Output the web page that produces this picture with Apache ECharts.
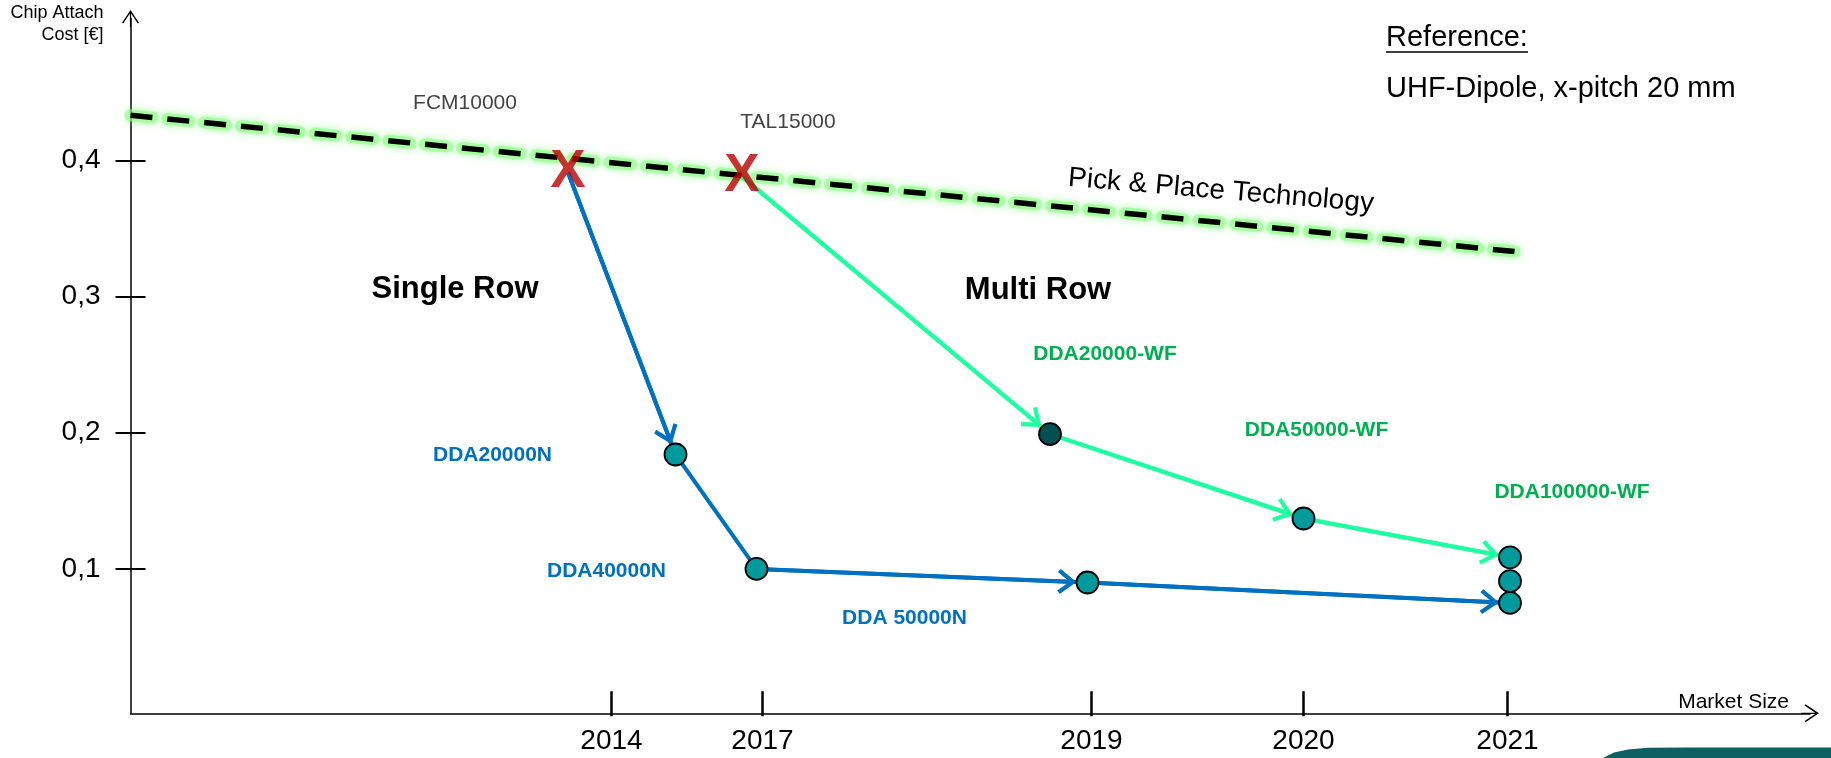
<!DOCTYPE html>
<html>
<head>
<meta charset="utf-8">
<title>Chip Attach Cost</title>
<script src="https://cdn.jsdelivr.net/npm/echarts@6.0.0/dist/echarts.min.js"></script>
<style>
    html, body { margin: 0; padding: 0; background: #fff; }
    #main { width: 1831px; height: 758px; }
</style>
</head>
<body>
<div id="main"></div>
<script>
// x = relative market size position, y = chip attach cost [EUR]
var yearLabels = ['2014', '2017', '2019', '2020', '2021'];
var yearPos = [48.1, 63.2, 96.1, 117.3, 137.7];
var costTicks = [0.1, 0.2, 0.3, 0.4];

// pick & place reference line
var pickPlaceX = [0, 138.4];
var pickPlaceY = [0.433, 0.333];

// pick & place machines (red X)
var startNames = ['FCM10000', 'TAL15000'];
var startX = [43.75, 61.15];
var startY = [0.391, 0.388];

// single row path (blue), starts at FCM10000
var singleNames = ['DDA20000N', 'DDA40000N', 'DDA 50000N', ''];
var singleX = [54.5, 62.6, 95.7, 137.95];
var singleY = [0.184, 0.100, 0.090, 0.075];
var singleArrow = [true, false, true, true];

// multi row path (green), starts at TAL15000
var multiNames = ['DDA20000-WF', 'DDA50000-WF', 'DDA100000-WF'];
var multiX = [91.95, 117.3, 137.95];
var multiY = [0.199, 0.137, 0.1085];
var multiArrow = [true, true, true];

// extra 2021 variant
var extraX = [137.95];
var extraY = [0.091];

// label offsets (px) - style only
var startOffsets = [[-103, -69], [46, -54]];
var singleOffsets = [[-183, 1], [-150, 2], [-183, 36], [0, 0]];
var multiOffsets = [[55, -80], [13, -88], [62, -65]];

var FONT = "'Liberation Sans', Arial, sans-serif";
var BLUE = '#0070c0';
var GREEN_LINE = '#1effa0';
var GREEN_TEXT = '#00b050';
var TEAL = '#00999c';
var CHEVRON = 'path://M10,0 L20,12.5 L17.4,14.6 L10,5.4 L2.6,14.6 L0,12.5 Z';
var AXIS_ARROW = 'path://M10,0 L20,15 L18.6,16 L10.7,4.2 L10.7,20 L9.3,20 L9.3,4.2 L1.4,16 L0,15 Z';

var chart = echarts.init(document.getElementById('main'));

function makePath(x0, y0, xs, ys) {
    var pts = [[x0, y0]];
    for (var i = 0; i < xs.length; i++) pts.push([xs[i], ys[i]]);
    return pts;
}

function arrowSegments(pts, flags) {
    var out = [];
    for (var i = 0; i < pts.length - 1; i++) {
        if (!flags[i]) continue;
        out.push([
            {coord: pts[i], symbol: 'none'},
            {coord: pts[i + 1], symbol: CHEVRON, symbolSize: [25, 19], symbolOffset: [0, 20.5]}
        ]);
    }
    return out;
}

var singlePath = makePath(startX[0], startY[0], singleX, singleY);
var multiPath = makePath(startX[1], startY[1], multiX, multiY);
var pickPlace = pickPlaceX.map(function (x, i) { return [x, pickPlaceY[i]]; });

function dotItem(x, y, name, color, labelColor, offset) {
    return {
        value: [x, y],
        name: name,
        itemStyle: {color: color},
        label: {show: !!name, formatter: name, color: labelColor, offset: offset}
    };
}

var dots = [];
singleX.forEach(function (x, i) {
    dots.push(dotItem(x, singleY[i], singleNames[i], TEAL, BLUE, singleOffsets[i]));
});
multiX.forEach(function (x, i) {
    dots.push(dotItem(x, multiY[i], multiNames[i], i === 0 ? '#004f52' : TEAL, GREEN_TEXT, multiOffsets[i]));
});
extraX.forEach(function (x, i) {
    dots.push(dotItem(x, extraY[i], '', TEAL, BLUE, [0, 0]));
});

var startItems = startX.map(function (x, i) {
    return {value: [x, startY[i]], name: startNames[i], label: {offset: startOffsets[i]}};
});

function yearFmt(v) {
    for (var i = 0; i < yearPos.length; i++) {
        if (Math.abs(yearPos[i] - v) < 0.01) return yearLabels[i];
    }
    return '';
}

var option = {
    animation: false,
    backgroundColor: '#fff',
    textStyle: {fontFamily: FONT},
    grid: {left: 130.5, right: 21, top: 18.5, bottom: 44.7, containLabel: false, outerBoundsMode: 'none'},
    xAxis: [{
        type: 'value',
        min: 0,
        max: 167.95,
        name: 'Market Size',
        nameLocation: 'end',
        nameGap: -21,
        nameTextStyle: {fontSize: 21, color: '#000', align: 'right', verticalAlign: 'bottom', padding: [0, 0, 1, 0], fontFamily: FONT},
        axisLine: {
            onZero: false,
            symbol: ['none', AXIS_ARROW],
            symbolSize: [22, 18],
            lineStyle: {color: '#000', width: 1.5}
        },
        axisTick: {show: true, inside: true, length: 22, customValues: yearPos, lineStyle: {color: '#000', width: 2.5}},
        axisLabel: {customValues: yearPos, formatter: yearFmt, fontSize: 28, color: '#000', margin: 14, fontFamily: FONT},
        splitLine: {show: false}
    }, {
        type: 'value',
        min: 0,
        max: 167.95,
        position: 'bottom',
        offset: 0,
        axisLine: {show: false, onZero: false},
        axisTick: {show: true, inside: false, length: 3, customValues: yearPos, lineStyle: {color: '#000', width: 2.5}},
        axisLabel: {show: false},
        splitLine: {show: false}
    }],
    yAxis: [{
        type: 'value',
        min: -0.00602,
        max: 0.50411,
        name: 'Chip Attach\nCost [€]',
        nameLocation: 'end',
        nameGap: 16,
        nameTextStyle: {fontSize: 18, lineHeight: 22, color: '#000', align: 'right', verticalAlign: 'top', padding: [0, 27, 0, 0], fontFamily: FONT},
        axisLine: {
            onZero: false,
            symbol: ['none', AXIS_ARROW],
            symbolSize: [20, 17],
            lineStyle: {color: '#000', width: 1.5}
        },
        axisTick: {show: true, inside: false, length: 15, customValues: costTicks, lineStyle: {color: '#000', width: 2}},
        axisLabel: {
            customValues: costTicks,
            formatter: function (v) { return v.toFixed(1).replace('.', ','); },
            fontSize: 28, color: '#000', margin: 30, fontFamily: FONT
        },
        splitLine: {show: false}
    }, {
        type: 'value',
        min: -0.00602,
        max: 0.50411,
        position: 'left',
        offset: 0,
        axisLine: {show: false, onZero: false},
        axisTick: {show: true, inside: true, length: 15, customValues: costTicks, lineStyle: {color: '#000', width: 2}},
        axisLabel: {show: false},
        splitLine: {show: false}
    }],
    series: [
        {
            // soft green halo under the dashes
            name: 'Pick & Place glow',
            type: 'line',
            z: 1,
            clip: false,
            symbol: 'none',
            data: pickPlace,
            lineStyle: {color: 'rgba(140,255,130,0.6)', width: 12, type: [22, 15], cap: 'round', shadowBlur: 8, shadowColor: 'rgba(90,255,90,0.8)'}
        },
        {
            name: 'Pick & Place Technology',
            type: 'line',
            z: 2,
            clip: false,
            symbol: 'none',
            data: pickPlace,
            lineStyle: {color: '#000', width: 5.5, type: [22, 15], cap: 'butt'}
        },
        {
            name: 'Single Row',
            type: 'line',
            z: 3,
            symbol: 'none',
            data: singlePath,
            lineStyle: {color: BLUE, width: 4},
            markLine: {
                silent: true,
                symbolOffset: [0, [0, 20.5]],
                label: {show: false},
                lineStyle: {color: BLUE, width: 4, type: 'solid'},
                emphasis: {disabled: true},
                data: arrowSegments(singlePath, singleArrow)
            }
        },
        {
            name: 'Multi Row',
            type: 'line',
            z: 3,
            symbol: 'none',
            data: multiPath,
            lineStyle: {color: GREEN_LINE, width: 4},
            markLine: {
                silent: true,
                symbolOffset: [0, [0, 20.5]],
                label: {show: false},
                lineStyle: {color: GREEN_LINE, width: 4, type: 'solid'},
                emphasis: {disabled: true},
                data: arrowSegments(multiPath, multiArrow)
            }
        },
        {
            name: 'Chips',
            type: 'scatter',
            z: 5,
            symbol: 'circle',
            symbolSize: 22,
            itemStyle: {borderColor: '#000', borderWidth: 1.8, opacity: 1},
            label: {show: true, position: 'inside', fontSize: 21, fontWeight: 'bold', fontFamily: FONT},
            emphasis: {disabled: true},
            data: dots
        },
        {
            name: 'Start X',
            type: 'scatter',
            z: 6,
            symbol: 'circle',
            symbolSize: 1,
            itemStyle: {color: 'rgba(0,0,0,0)'},
            label: {show: true, position: 'inside', formatter: 'X', fontSize: 53, fontWeight: 'bold', color: '#bb0000', fontFamily: FONT},
            emphasis: {disabled: true},
            data: startX.map(function (x, i) { return [x, startY[i]]; })
        },
        {
            name: 'Start names',
            type: 'scatter',
            z: 6,
            symbol: 'circle',
            symbolSize: 1,
            itemStyle: {color: 'rgba(0,0,0,0)'},
            label: {show: true, position: 'inside', formatter: '{b}', fontSize: 21, color: '#111', fontFamily: FONT},
            emphasis: {disabled: true},
            data: startItems
        }
    ],
    graphic: [
        {type: 'text', x: 455, y: 289, style: {text: 'Single Row', font: 'bold 31px ' + FONT, fill: '#000', align: 'center', verticalAlign: 'middle'}},
        {type: 'text', x: 1038, y: 290, style: {text: 'Multi Row', font: 'bold 31px ' + FONT, fill: '#000', align: 'center', verticalAlign: 'middle'}},
        {type: 'text', x: 1221, y: 191, rotation: -0.085, style: {text: 'Pick & Place Technology', font: '28px ' + FONT, fill: '#000', align: 'center', verticalAlign: 'middle'}},
        {type: 'text', x: 1386, y: 38, style: {text: 'Reference:', font: '29px ' + FONT, fill: '#000', align: 'left', verticalAlign: 'middle'}},
        {type: 'line', shape: {x1: 1386, y1: 52, x2: 1528, y2: 52}, style: {stroke: '#000', lineWidth: 1.5}},
        {type: 'text', x: 1386, y: 89, style: {text: 'UHF-Dipole, x-pitch 20 mm', font: '29px ' + FONT, fill: '#000', align: 'left', verticalAlign: 'middle'}},
        {type: 'polygon', shape: {points: [[1603, 758], [1614, 752.5], [1628, 749.5], [1648, 747.8], [1690, 747.5], [1831, 747.5], [1831, 758]]}, style: {fill: '#0d5f61'}}
    ]
};

chart.setOption(option);
</script>
</body>
</html>
